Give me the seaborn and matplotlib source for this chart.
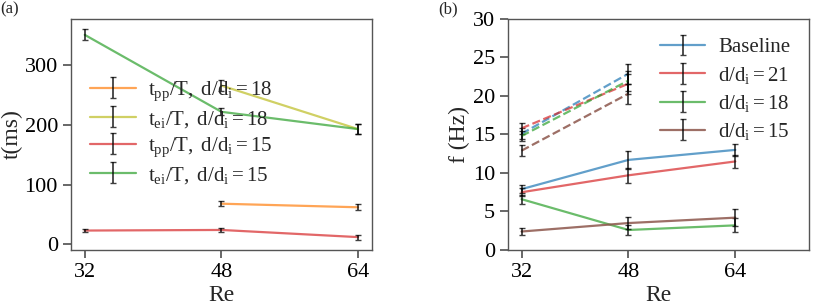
import numpy as np
import seaborn as sns
import matplotlib.pyplot as plt

# ======================
# DATA
# ======================
re = [32, 48, 64]
re_dash = [32, 48]

# (a) time scales, ms
tpp_18 = [np.nan, 68, 62]
tpp_18_err = [0, 4, 5]
tei_18 = [np.nan, 266, 193]
tei_18_err = [0, 9, 9]
tpp_15 = [23, 24, 12]
tpp_15_err = [3, 3, 4]
tei_15 = [351, 222, 193]
tei_15_err = [9, 6, 9]

labels_a = [r"$\mathrm{t_{pp}/T,\ d/d_i = 18}$",
            r"$\mathrm{t_{ei}/T,\ d/d_i = 18}$",
            r"$\mathrm{t_{pp}/T,\ d/d_i = 15}$",
            r"$\mathrm{t_{ei}/T,\ d/d_i = 15}$"]

# (b) frequencies, Hz (solid lines)
f_base = [7.9, 11.7, 13.0]
f_base_err = [0.5, 1.2, 0.8]
f_21 = [7.5, 9.7, 11.5]
f_21_err = [0.5, 1.0, 0.9]
f_18 = [6.6, 2.6, 3.2]
f_18_err = [0.6, 0.6, 0.9]
f_15 = [2.4, 3.5, 4.2]
f_15_err = [0.5, 0.8, 1.1]

# (b) frequencies, Hz (dashed lines)
fd_base = [15.1, 22.9]
fd_21 = [15.8, 21.6]
fd_18 = [14.8, 22.0]
fd_15 = [12.9, 20.3]
fd_err = [0.7, 1.3]

labels_b = ["Baseline", r"$\mathrm{d/d_i = 21}$",
            r"$\mathrm{d/d_i = 18}$", r"$\mathrm{d/d_i = 15}$"]

# ======================
# STYLE
# ======================
sns.set_theme(style="ticks")
plt.rcParams.update({
    "font.family": ["Liberation Serif", "DejaVu Serif"],
    "mathtext.fontset": "custom",
    "mathtext.rm": "Liberation Serif",
    "mathtext.it": "Liberation Serif:italic",
    "axes.edgecolor": "#555555",
    "axes.linewidth": 1.0,
    "xtick.color": "#555555",
    "ytick.color": "#555555",
    "xtick.labelcolor": "black",
    "ytick.labelcolor": "black",
    "xtick.labelsize": 16,
    "ytick.labelsize": 16,
    "axes.labelsize": 17,
})

C = sns.color_palette("tab10")
ALPHA = 0.7


def draw(ax, x, y, yerr, color, ls="-", alpha=ALPHA):
    sns.lineplot(x=x, y=y, ax=ax, color=color, alpha=alpha, lw=1.6,
                 linestyle=ls, errorbar=None)
    line = ax.lines[-1]
    ec = ax.errorbar(x, y, yerr=yerr, fmt="none", ecolor="black",
                     alpha=0.75, capsize=2, elinewidth=1.3)
    return (line, ec)


fig = plt.figure(figsize=(8.17, 3.06), dpi=100)
ax1 = fig.add_axes([0.087, 0.183, 0.368, 0.755])
ax2 = fig.add_axes([0.622, 0.183, 0.368, 0.755])

# ======================
# (a)
# ======================
h_a = [draw(ax1, re, tpp_18, tpp_18_err, C[1]),
       draw(ax1, re, tei_18, tei_18_err, C[8]),
       draw(ax1, re, tpp_15, tpp_15_err, C[3]),
       draw(ax1, re, tei_15, tei_15_err, C[2])]
ax1.set_xticks(re)
ax1.set_yticks([0, 100, 200, 300])
ax1.set_xlabel("Re", labelpad=2)
ax1.set_ylabel("t(ms)", labelpad=1)
ax1.legend(h_a, labels_a, loc="upper left", bbox_to_anchor=(0.0, 0.82),
           frameon=False, fontsize=15, handlelength=2.2, labelspacing=0.28,
           handletextpad=0.6)

# ======================
# (b)
# ======================
h_b = [draw(ax2, re, f_base, f_base_err, C[0]),
       draw(ax2, re, f_21, f_21_err, C[3]),
       draw(ax2, re, f_18, f_18_err, C[2]),
       draw(ax2, re, f_15, f_15_err, C[5], alpha=0.85)]
draw(ax2, re_dash, fd_base, fd_err, C[0], "--")
draw(ax2, re_dash, fd_21, fd_err, C[3], "--")
draw(ax2, re_dash, fd_18, fd_err, C[2], "--")
draw(ax2, re_dash, fd_15, fd_err, C[5], "--", alpha=0.85)
ax2.set_xlim(30, 75)
ax2.set_ylim(0, 30)
ax2.set_xticks(re)
ax2.set_yticks([0, 5, 10, 15, 20, 25, 30])
ax2.set_xlabel("Re", labelpad=2)
ax2.set_ylabel("f (Hz)", labelpad=2)
ax2.legend(h_b, labels_b, loc="upper right", frameon=False, fontsize=15,
           handlelength=2.2, labelspacing=0.35, handletextpad=0.6)

fig.text(0.0, 0.995, "(a)", ha="left", va="top", fontsize=12)
fig.text(0.536, 0.995, "(b)", ha="left", va="top", fontsize=12)

fig.savefig("out.png", dpi=100)
